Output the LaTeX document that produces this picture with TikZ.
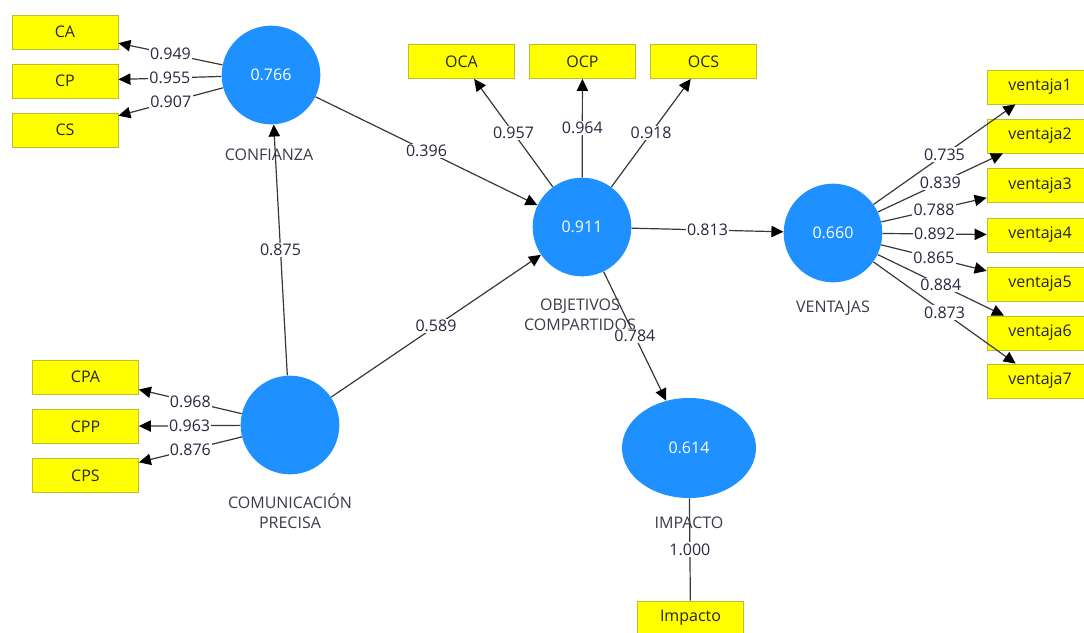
\documentclass[tikz,border=0pt]{standalone}
\usepackage{fontspec}
\setmainfont{Open Sans}
\usetikzlibrary{arrows.meta,shapes.geometric}
\definecolor{latentblue}{HTML}{1E90FF}
\definecolor{itemyellow}{HTML}{FFFF00}
\definecolor{itemborder}{HTML}{BDBD30}
\definecolor{pathgrey}{HTML}{383838}
\definecolor{nametext}{HTML}{3A3A48}
\definecolor{coeftext}{HTML}{2E2440}

\tikzset{
  latent/.style={circle, fill=latentblue, minimum size=74pt, inner sep=0pt,
    text=white, font=\fontsize{12}{14}\selectfont},
  itembox/.style={rectangle, fill=itemyellow, draw=itemborder, line width=0.6pt,
    minimum width=79.5pt, minimum height=25.5pt, inner sep=0pt,
    text=black!85, font=\fontsize{12}{14}\selectfont},
  latentname/.style={align=center, text=nametext, font=\fontsize{12}{15}\selectfont},
  coef/.style={fill=white, inner sep=1pt, text=coeftext, font=\fontsize{12}{14}\selectfont},
  pathline/.style={draw=pathgrey, line width=0.9pt,
    -{Triangle[length=9pt,width=8.5pt,color=black]}},
}

\begin{document}
\begin{tikzpicture}[x=0.75pt, y=-0.75pt]
    \useasboundingbox (0,0) rectangle (1084,632);

    % Latent variables
    \node[latent] (conf) at (271,75) {0.766};
    \node[latent] (obj) at (582,227) {0.911};
    \node[latent] (vent) at (833,233) {0.660};
    \node[latent] (com) at (290,425) {};
    \node[latent, ellipse, minimum width=100.5pt, minimum height=75pt] (imp) at (689,448) {0.614};

    % Names below the latent variables
    \node[latentname] (conf-name) at (269,155) {CONFIANZA};
    \node[latentname] (obj-name) at (580,315) {OBJETIVOS\\COMPARTIDOS};
    \node[latentname] (vent-name) at (833,308) {VENTAJAS};
    \node[latentname] (com-name) at (290,511) {COMUNICACIÓN\\PRECISA};
    \node[latentname] (imp-name) at (689,523) {IMPACTO};

    % Indicators of CONFIANZA
    \foreach \n/\y in {CA/32, CP/81, CS/130} {
        \node[itembox] (\n) at (65,\y) {\n};
    }
    \foreach \n/\c in {CA/0.949, CP/0.955, CS/0.907} {
        \draw[pathline] (conf) -- node[coef] {\c} (\n);
    }

    % Indicators of COMUNICACIÓN PRECISA
    \foreach \n/\y in {CPA/377, CPP/426.5, CPS/475.5} {
        \node[itembox] (\n) at (85.5,\y) {\n};
    }
    \foreach \n/\c in {CPA/0.968, CPP/0.963, CPS/0.876} {
        \draw[pathline] (com) -- node[coef] {\c} (\n);
    }

    % Indicators of OBJETIVOS COMPARTIDOS
    \foreach \n/\x in {OCA/461.5, OCP/582.5, OCS/703.5} {
        \node[itembox] (\n) at (\x,61.5) {\n};
    }
    \foreach \n/\c in {OCA/0.957, OCP/0.964, OCS/0.918} {
        \draw[pathline] (obj) -- node[coef] {\c} (\n);
    }

    % Indicators of VENTAJAS
    \foreach \i/\y in {1/87, 2/136, 3/185.5, 4/235, 5/284, 6/333, 7/381} {
        \node[itembox] (v\i) at (1040,\y) {ventaja\i};
    }
    \foreach \i/\c in {1/0.735, 2/0.839, 3/0.788, 4/0.892, 5/0.865, 6/0.884, 7/0.873} {
        \draw[pathline] (vent) -- node[coef] {\c} (v\i);
    }

    % Indicator of IMPACTO
    \node[itembox] (impitem) at (690.5,618) {Impacto};
    \draw[draw=pathgrey, line width=0.9pt] (imp) -- node[coef] {1.000} (impitem);

    % Structural paths
    \draw[pathline] (com) -- node[coef] {0.875} (conf);
    \draw[pathline] (conf) -- node[coef] {0.396} (obj);
    \draw[pathline] (com) -- node[coef] {0.589} (obj);
    \draw[pathline] (obj) -- node[coef] {0.813} (vent);
    \draw[pathline] (obj) -- node[coef] {0.784} (imp);
\end{tikzpicture}
\end{document}
